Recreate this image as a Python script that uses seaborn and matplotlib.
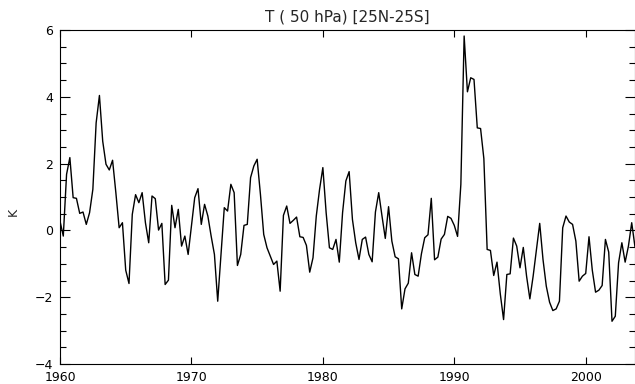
import numpy as np
import pandas as pd
import matplotlib
matplotlib.use("Agg")
import matplotlib.pyplot as plt
from matplotlib.ticker import MultipleLocator
import seaborn as sns

# seasonal (quarterly) 50 hPa temperature anomalies, 25N-25S, starting 1960
start_year = 1960.0
step = 0.25
temp_anom = [
    0.28, -0.17, 1.68, 2.18, 0.98, 0.96, 0.51, 0.55, 0.18, 0.53,
    1.23, 3.22, 4.04, 2.67, 1.98, 1.81, 2.10, 1.13, 0.08, 0.23,
    -1.19, -1.59, 0.48, 1.07, 0.83, 1.13, 0.23, -0.37, 1.03, 0.95,
    0.01, 0.21, -1.62, -1.49, 0.75, 0.08, 0.63, -0.47, -0.17, -0.72,
    0.13, 0.98, 1.25, 0.18, 0.78, 0.43, -0.17, -0.72, -2.12, -0.72,
    0.68, 0.58, 1.38, 1.13, -1.05, -0.72, 0.15, 0.18, 1.58, 1.93,
    2.13, 1.08, -0.12, -0.52, -0.77, -1.02, -0.92, -1.82, 0.45, 0.73,
    0.21, 0.30, 0.40, -0.19, -0.21, -0.45, -1.25, -0.82, 0.43, 1.23,
    1.88, 0.53, -0.52, -0.57, -0.27, -0.95, 0.53, 1.48, 1.76, 0.33,
    -0.37, -0.87, -0.27, -0.20, -0.72, -0.94, 0.55, 1.13, 0.43, -0.24,
    0.71, -0.32, -0.79, -0.85, -2.35, -1.75, -1.58, -0.67, -1.32, -1.37,
    -0.70, -0.22, -0.13, 0.96, -0.88, -0.80, -0.26, -0.12, 0.42, 0.36,
    0.15, -0.18, 1.38, 5.82, 4.15, 4.57, 4.52, 3.07, 3.05, 2.15,
    -0.57, -0.60, -1.35, -0.95, -1.90, -2.67, -1.32, -1.30, -0.23, -0.47,
    -1.12, -0.51, -1.37, -2.05, -1.37, -0.57, 0.21, -0.87, -1.67, -2.15,
    -2.40, -2.35, -2.12, 0.08, 0.43, 0.25, 0.18, -0.32, -1.52, -1.37,
    -1.29, -0.19, -1.19, -1.85, -1.79, -1.65, -0.27, -0.65, -2.72, -2.57,
    -0.97, -0.37, -0.95, -0.47, 0.23, -0.50,
]
years = start_year + step * np.arange(len(temp_anom))

xticks = [1960, 1970, 1980, 1990, 2000]
yticks = [-4, -2, 0, 2, 4, 6]

df = pd.DataFrame({"year": years, "T": temp_anom})

sns.set_theme(style="ticks")
plt.rcParams["font.family"] = ["DejaVu Sans"]

fig = plt.figure(figsize=(6.35, 3.84), dpi=100)
ax = fig.add_axes([60 / 635, 20 / 384, 575 / 635, 334 / 384])

sns.lineplot(data=df, x="year", y="T", color="black", linewidth=1.0, ax=ax)

ax.set_xlim(1960, 2003.75)
ax.set_ylim(-4, 6)
ax.set_xticks(xticks)
ax.set_yticks(yticks)
ax.yaxis.set_minor_locator(MultipleLocator(0.5))

ax.tick_params(axis="both", which="both", direction="in", top=True, right=True,
               colors="black", labelsize=9, width=0.8)
ax.tick_params(axis="x", which="major", length=5, pad=5)
ax.tick_params(axis="y", which="major", length=7.5, pad=5)
ax.tick_params(axis="y", which="minor", length=4)
for sp in ax.spines.values():
    sp.set_color("black")
    sp.set_linewidth(0.8)

ax.set_title("T ( 50 hPa) [25N-25S]", fontsize=11, pad=6)
ax.set_xlabel("")
ax.set_ylabel("K", fontsize=9)
ax.yaxis.set_label_coords(-0.07, 0.455)

fig.savefig("out.png", dpi=100)
